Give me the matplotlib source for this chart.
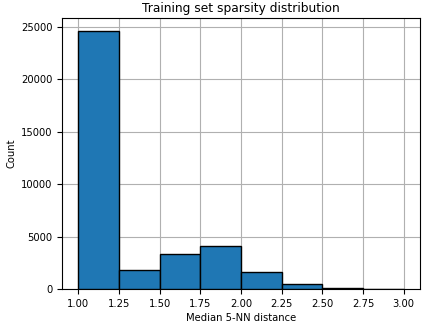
import numpy as np
import matplotlib
matplotlib.use("Agg")
import matplotlib.pyplot as plt

# histogram bins (median 5-NN distance) and counts
bin_edges = [1.00, 1.25, 1.50, 1.75, 2.00, 2.25, 2.50, 2.75, 3.00]
counts = [24620, 1780, 3370, 4130, 1650, 480, 100, 30]

centers = [(a + b) / 2 for a, b in zip(bin_edges[:-1], bin_edges[1:])]

fig, ax = plt.subplots(figsize=(4.22, 3.26), dpi=100)
ax.hist(centers, bins=bin_edges, weights=counts, color="#1f77b4", edgecolor="black", zorder=3)
ax.set_xticks(bin_edges)
ax.set_title("Training set sparsity distribution", fontsize=8.8, pad=4)
ax.set_xlabel("Median 5-NN distance", fontsize=7.2, labelpad=3)
ax.set_ylabel("Count", fontsize=7.2, labelpad=3)
ax.tick_params(labelsize=7.2)
ax.grid(True, zorder=0)

fig.subplots_adjust(left=0.147, right=0.995, top=0.945, bottom=0.113)
fig.savefig("out.png")
